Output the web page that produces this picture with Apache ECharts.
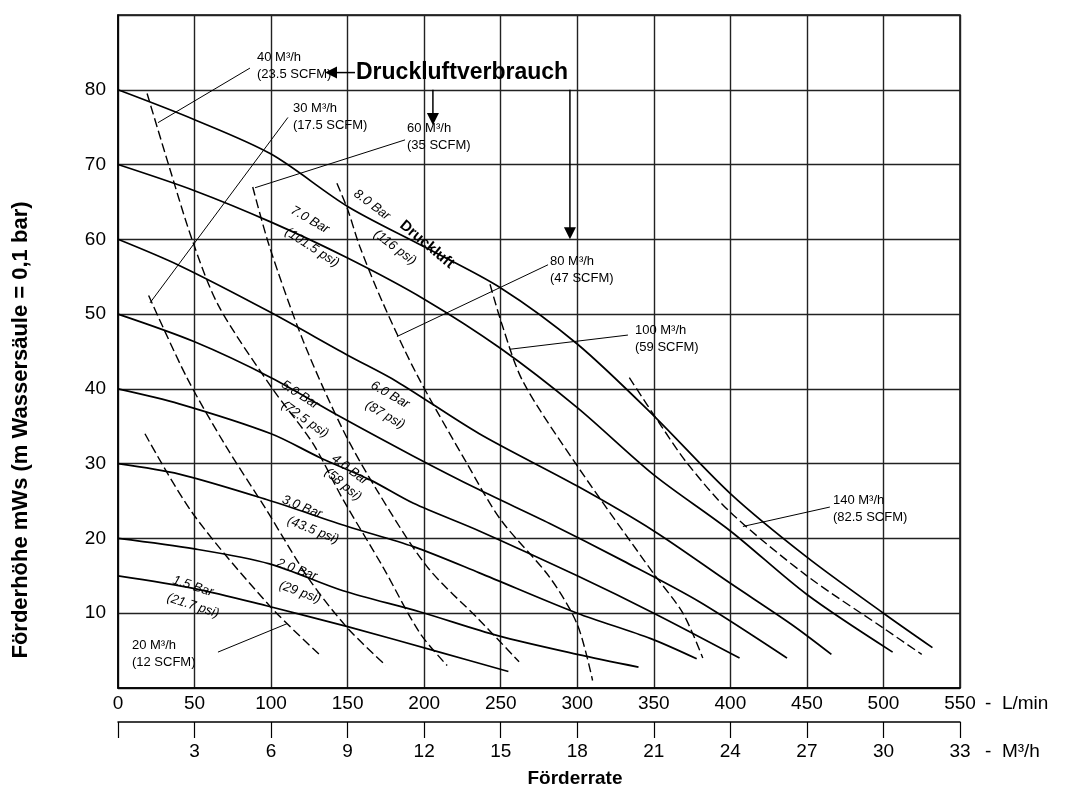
<!DOCTYPE html>
<html>
<head>
<meta charset="utf-8">
<script src="https://cdn.jsdelivr.net/npm/echarts@6/dist/echarts.min.js"></script>
<style>
  html, body { margin: 0; background: #fff; }
  #chart { width: 1070px; height: 796px; }
</style>
</head>
<body>
<div id="chart"></div>
<script>
// flow axis (L/min) and second flow axis (m3/h), head axis (m)
const flowTicks = [0, 50, 100, 150, 200, 250, 300, 350, 400, 450, 500, 550];
const flowM3Ticks = [3, 6, 9, 12, 15, 18, 21, 24, 27, 30, 33];
const headTicks = [10, 20, 30, 40, 50, 60, 70, 80];

// pressure curves (solid): [L/min, m]
const bar15 = [[0, 15], [50, 13.3], [97, 11], [150, 8.2], [210, 4.8], [255, 2.2]];
const bar20 = [[0, 20], [50, 18.6], [99, 16.6], [147, 13], [197, 10.2], [248, 7], [300, 4.5], [340, 2.8]];
const bar30 = [[0, 30], [40, 28.6], [97, 25.2], [150, 21.6], [193, 18.9], [236, 15.4], [300, 10], [348, 6.6], [378, 3.9]];
const bar40 = [[0, 40], [40, 38], [100, 34], [132, 30.8], [165, 27.8], [193, 24.7], [236, 21], [300, 15], [350, 10], [406, 4]];
const bar50 = [[0, 50], [50, 46.3], [100, 41.5], [145, 36.3], [193, 31], [236, 26.5], [282, 22], [330, 17], [380, 11.5], [437, 4]];
const bar60 = [[0, 60], [40, 56.5], [99, 50.3], [150, 44.5], [182, 41], [236, 34], [300, 27], [350, 21], [400, 14], [440, 8.5], [466, 4.5]];
const bar70 = [[0, 70], [50, 66.5], [100, 62.3], [150, 57.5], [200, 52], [250, 45.4], [300, 37.5], [350, 28.5], [400, 21], [450, 12.5], [506, 4.8]];
const bar80 = [[0, 80], [50, 76], [100, 71.4], [150, 64.4], [200, 59], [250, 53.5], [300, 46], [350, 36.4], [400, 26], [450, 17.5], [500, 10], [532, 5.4]];

// air consumption curves (dashed)
const air20 = [[17.6, 34], [49, 23.3], [99, 11], [132, 4.4]];
const air30 = [[20, 52.5], [45, 41.5], [70, 32.5], [97, 23.8], [125, 14.5], [150, 8], [175, 3]];
const air40 = [[19, 79.5], [33, 70], [49, 59.6], [66, 51], [101, 40], [127, 32.8], [147, 25.2], [173, 16.2], [197, 7.4], [215, 3]];
const air60 = [[88, 67], [99, 59], [121, 46.4], [147, 34.5], [169, 26.5], [202, 16.2], [236, 9.1], [262, 3.5]];
const air80 = [[143, 67.5], [150, 64], [158, 59], [173, 51.5], [195, 42], [228, 30], [250, 22.5], [282, 14.8], [300, 8.5], [310, 1]];
const air100 = [[243, 54], [251, 48.5], [264.5, 41], [300, 29.7], [349.5, 15.4], [369, 10], [382, 4]];
const air140 = [[334, 41.5], [355, 35], [372, 30], [400, 23.5], [450, 15], [500, 8], [525, 4.5]];

// annotation texts
const airLabels = [
  ['40 M³/h', '(23.5 SCFM)', 90.8, 85.4],
  ['30 M³/h', '(17.5 SCFM)', 114.3, 78.7],
  ['60 M³/h', '(35 SCFM)', 188.8, 76],
  ['80 M³/h', '(47 SCFM)', 282.2, 58.2],
  ['100 M³/h', '(59 SCFM)', 337.7, 49],
  ['140 M³/h', '(82.5 SCFM)', 467, 26.2],
  ['20 M³/h', '(12 SCFM)', 9.1, 6.8]
];
const leaders = [
  [[86.2, 82.9], [26.1, 75.6]],
  [[111, 76.3], [20.9, 51.5]],
  [[187.5, 73.3], [89.5, 66.9]],
  [[280.9, 56.6], [182.2, 47]],
  [[333.1, 47.2], [256, 45.3]],
  [[465, 24.2], [408.2, 21.6]],
  [[65.3, 4.8], [110.4, 8.6]]
];
// text, x, y, angle in degrees (clockwise)
const pressureLabels = [
  ['8.0 Bar', 165.9, 64.6, 37], ['(116 psi)', 180.9, 58.9, 37],
  ['7.0 Bar', 125.4, 62.6, 30], ['(101.5 psi)', 126.7, 58.9, 33],
  ['6.0 Bar', 177.7, 39.2, 30], ['(87 psi)', 174.4, 36.5, 30],
  ['5.0 Bar', 118.9, 39.2, 33], ['(72.5 psi)', 122.1, 35.9, 35],
  ['4.0 Bar', 151.5, 29.2, 37], ['(58 psi)', 147, 27.2, 40],
  ['3.0 Bar', 120.2, 24.2, 22], ['(43.5 psi)', 127.4, 21.1, 22],
  ['2.0 Bar', 116.9, 15.8, 20], ['(29 psi)', 118.9, 12.8, 20],
  ['1.5 Bar', 49, 13.6, 18], ['(21.7 psi)', 49, 11, 18]
];
// vertical arrows: x, top, tip
const downArrows = [[205.7, 80, 75.3], [295.2, 80, 60]];

const narrow = "'Liberation Sans Narrow', 'Liberation Sans', Arial, sans-serif";
const sans = "'Liberation Sans', Arial, sans-serif";

const chart = echarts.init(document.getElementById('chart'));

function curve(data, dashed) {
  return {
    type: 'line',
    data: data,
    smooth: 0.3,
    symbol: 'none',
    silent: true,
    lineStyle: {
      color: '#000',
      width: dashed ? 1.4 : 1.7,
      type: dashed ? [9, 4] : 'solid'
    },
    z: 3
  };
}

const series = [bar15, bar20, bar30, bar40, bar50, bar60, bar70, bar80].map(d => curve(d, false))
  .concat([air20, air30, air40, air60, air80, air100, air140].map(d => curve(d, true)))
  .concat(leaders.map(d => ({
    type: 'line', data: d, symbol: 'none', silent: true,
    lineStyle: { color: '#000', width: 1 }, z: 3
  })));

chart.setOption({
  animation: false,
  backgroundColor: '#fff',
  grid: [
    { left: 118, right: 110, top: 15, bottom: 108, show: true, borderColor: '#000', borderWidth: 1.5 },
    { left: 118, right: 110, top: 721, height: 1 }
  ],
  xAxis: [
    {
      gridIndex: 0, type: 'value', min: 0, max: 550, interval: 50,
      axisLine: { lineStyle: { color: '#000', width: 1.5 } },
      axisTick: { show: false },
      axisLabel: { color: '#000', fontFamily: narrow, fontSize: 19, margin: 6 },
      splitLine: { lineStyle: { color: '#222', width: 1.4 } }
    },
    {
      gridIndex: 1, type: 'value', min: 0, max: 33, interval: 3, position: 'bottom',
      axisLine: { lineStyle: { color: '#000', width: 1.5 } },
      axisTick: { length: 16, lineStyle: { color: '#000', width: 1.2 } },
      axisLabel: {
        color: '#000', fontFamily: narrow, fontSize: 19, margin: 20,
        formatter: v => (flowM3Ticks.indexOf(v) >= 0 ? String(v) : '')
      },
      splitLine: { show: false }
    }
  ],
  yAxis: [
    {
      gridIndex: 0, type: 'value', min: 0, max: 90, interval: 10,
      axisLine: { show: true, lineStyle: { color: '#000', width: 1.5 } },
      axisTick: { show: false },
      axisLabel: {
        color: '#000', fontFamily: narrow, fontSize: 19, margin: 12,
        formatter: v => (headTicks.indexOf(v) >= 0 ? String(v) : '')
      },
      splitLine: { lineStyle: { color: '#222', width: 1.4 } }
    },
    { gridIndex: 1, type: 'value', show: false }
  ],
  series: series
});

function px(p) { return chart.convertToPixel({ gridIndex: 0 }, p); }

const graphic = [];
airLabels.forEach(l => {
  const p = px([l[2], l[3]]);
  graphic.push({
    type: 'text', x: p[0], y: p[1], z: 10,
    style: { text: l[0] + '\n' + l[1], font: '13px ' + narrow, fill: '#000', lineHeight: 17, textAlign: 'left', textVerticalAlign: 'top' }
  });
});
pressureLabels.forEach(l => {
  const p = px([l[1], l[2]]);
  graphic.push({
    type: 'text', x: p[0], y: p[1], rotation: -l[3] * Math.PI / 180, z: 10,
    style: { text: l[0], font: 'italic 13px ' + narrow, fill: '#000', textAlign: 'center', textVerticalAlign: 'middle' }
  });
});
// Druckluft overlay on 8 bar label
(function () {
  const p = px([201.8, 59.3]);
  graphic.push({
    type: 'text', x: p[0], y: p[1], rotation: -40 * Math.PI / 180, z: 11,
    style: { text: 'Druckluft', font: 'bold 15px ' + sans, fill: '#000', textAlign: 'center', textVerticalAlign: 'middle' }
  });
})();
// Druckluftverbrauch with left arrow
(function () {
  const tip = px([135.2, 82.3]);
  const tail = px([154.8, 82.3]);
  graphic.push({ type: 'polygon', z: 11, shape: { points: [[tip[0], tip[1]], [tip[0] + 12, tip[1] - 6], [tip[0] + 12, tip[1] + 6]] }, style: { fill: '#000' } });
  graphic.push({ type: 'line', z: 11, shape: { x1: tip[0] + 10, y1: tip[1], x2: tail[0], y2: tail[1] }, style: { stroke: '#000', lineWidth: 1.5 } });
  graphic.push({
    type: 'text', x: tail[0] + 1, y: tail[1], z: 11,
    style: { text: 'Druckluftverbrauch', font: 'bold 23px ' + sans, fill: '#000', textAlign: 'left', textVerticalAlign: 'middle' }
  });
})();
downArrows.forEach(a => {
  const top = px([a[0], a[1]]);
  const tip = px([a[0], a[2]]);
  graphic.push({ type: 'line', z: 11, shape: { x1: top[0], y1: top[1], x2: tip[0], y2: tip[1] - 8 }, style: { stroke: '#000', lineWidth: 1.5 } });
  graphic.push({ type: 'polygon', z: 11, shape: { points: [[tip[0] - 6, tip[1] - 12], [tip[0] + 6, tip[1] - 12], [tip[0], tip[1]]] }, style: { fill: '#000' } });
});
// axis titles and units
graphic.push({
  type: 'text', x: 21, y: 430, rotation: Math.PI / 2, z: 10,
  style: { text: 'Förderhöhe mWs (m Wassersäule = 0,1 bar)', font: 'bold 22px ' + narrow, fill: '#000', textAlign: 'center', textVerticalAlign: 'middle' }
});
graphic.push({
  type: 'text', x: 575, y: 779, z: 10,
  style: { text: 'Förderrate', font: 'bold 19px ' + narrow, fill: '#000', textAlign: 'center', textVerticalAlign: 'middle' }
});
graphic.push({
  type: 'text', x: 985, y: 704, z: 10,
  style: { text: '-  L/min', font: '19px ' + narrow, fill: '#000', textAlign: 'left', textVerticalAlign: 'middle' }
});
graphic.push({
  type: 'text', x: 985, y: 752, z: 10,
  style: { text: '-  M³/h', font: '19px ' + narrow, fill: '#000', textAlign: 'left', textVerticalAlign: 'middle' }
});

chart.setOption({ graphic: graphic });
</script>
</body>
</html>
